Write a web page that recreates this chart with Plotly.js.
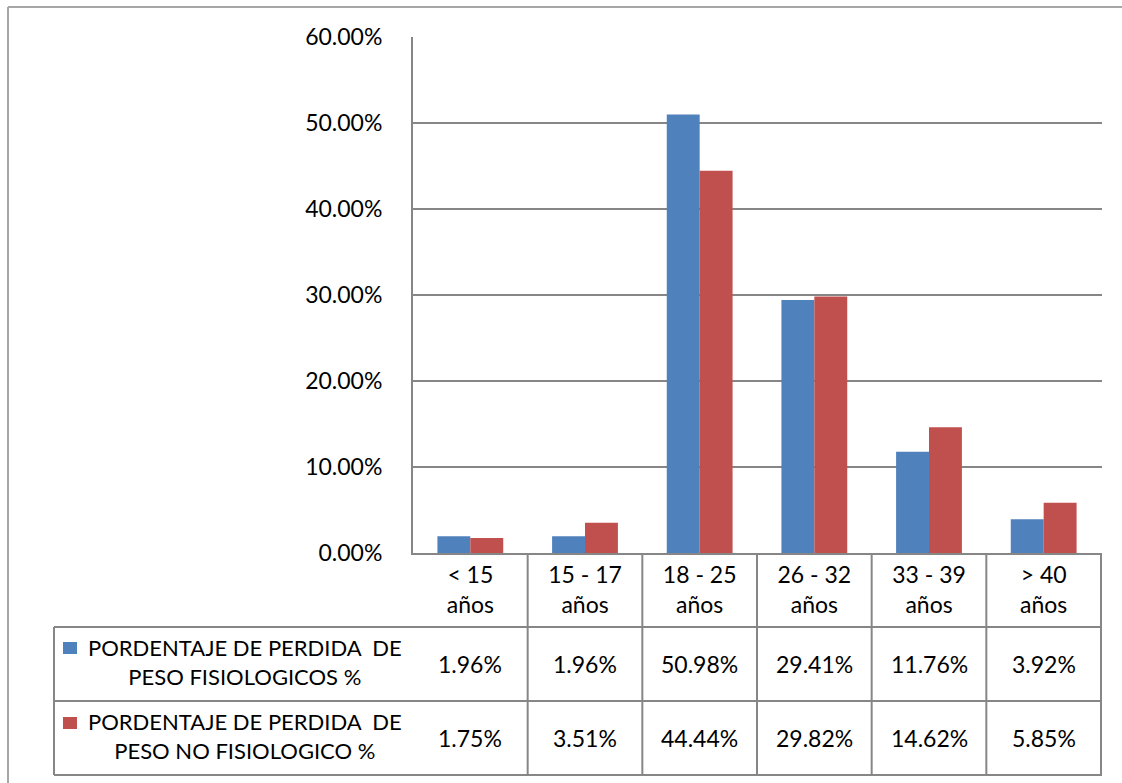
<!DOCTYPE html>
<html>
<head>
<meta charset="utf-8">
<script src="https://cdn.plot.ly/plotly-3.0.1.min.js"></script>
<style>html,body{margin:0;padding:0;background:#fff;}#chart{width:1122px;height:783px;}</style>
</head>
<body>
<div id="chart"></div>
<script>
var categories = ["< 15<br>años", "15 - 17<br>años", "18 - 25<br>años", "26 - 32<br>años", "33 - 39<br>años", "> 40<br>años"];
var fisiologicos = [1.96, 1.96, 50.98, 29.41, 11.76, 3.92];
var noFisiologicos = [1.75, 3.51, 44.44, 29.82, 14.62, 5.85];
var seriesNames = ["PORDENTAJE DE PERDIDA\u00A0\u00A0DE<br>PESO FISIOLOGICOS %", "PORDENTAJE DE PERDIDA\u00A0\u00A0DE<br>PESO NO FISIOLOGICO %"];
var colors = ["#4F81BD", "#C0504D"];

var W = 1122, H = 783;
var L = 413, R = 20, T = 37, B = 230;
var pw = W - L - R, ph = H - T - B;
function px(x){ return (x - L) / pw; }
function py(y){ return (H - B - y) / ph; }

var font = "Lato, 'Open Sans', sans-serif";
var fs = 23;
var gray = "#868686";

var traces = [
  {type:"bar", x:categories, y:fisiologicos, name:seriesNames[0], marker:{color:colors[0]}, hoverinfo:"y"},
  {type:"bar", x:categories, y:noFisiologicos, name:seriesNames[1], marker:{color:colors[1]}, hoverinfo:"y"}
];

var shapes = [];
var annotations = [];
var rowTop = 553, row1 = 627, row2 = 701, rowBot = 775, legLeft = 54;
for (var i = 0; i < categories.length; i++) {
  shapes.push({type:"line", xref:"x", yref:"paper", x0:i+0.5, x1:i+0.5, y0:py(rowTop), y1:py(rowBot), line:{color:gray, width:2}});
}
[row1, row2, rowBot].forEach(function(y){
  shapes.push({type:"line", xref:"paper", yref:"paper", x0:px(legLeft), x1:px(L+pw), y0:py(y), y1:py(y), line:{color:gray, width:2}});
});
shapes.push({type:"line", xref:"paper", yref:"paper", x0:px(legLeft), x1:px(legLeft), y0:py(row1), y1:py(rowBot), line:{color:gray, width:2}});
shapes.push({type:"line", xref:"paper", yref:"paper", x0:px(8), x1:px(8), y0:py(7), y1:py(790), line:{color:"#a6a6a6", width:2}});
shapes.push({type:"line", xref:"paper", yref:"paper", x0:px(8), x1:px(1130), y0:py(7), y1:py(7), line:{color:"#a6a6a6", width:2}});

var rows = [fisiologicos, noFisiologicos];
var rowCenters = [(row1+row2)/2, (row2+rowBot)/2];
var sqTops = [642, 717];
for (var r = 0; r < 2; r++) {
  for (var c = 0; c < categories.length; c++) {
    annotations.push({xref:"x", yref:"paper", x:c, y:py(rowCenters[r]), text:rows[r][c].toFixed(2)+"%", showarrow:false, font:{family:font, size:fs, color:"#000"}, xanchor:"center", yanchor:"middle"});
  }
  annotations.push({xref:"paper", yref:"paper", x:px(245), y:py(rowCenters[r]-2), text:seriesNames[r], showarrow:false, align:"center", font:{family:font, size:22, color:"#000"}, xanchor:"center", yanchor:"middle"});
  shapes.push({type:"rect", xref:"paper", yref:"paper", x0:px(63), x1:px(77), y0:py(sqTops[r]), y1:py(sqTops[r]+12), fillcolor:colors[r], line:{width:0}});
}

var layout = {
  width:W, height:H,
  margin:{l:L, r:R, t:T, b:B, pad:0},
  paper_bgcolor:"#fff", plot_bgcolor:"#fff",
  showlegend:false,
  barmode:"group", bargap:0.426, bargroupgap:0,
  font:{family:font, size:fs, color:"#000"},
  xaxis:{type:"category", showline:true, linecolor:gray, linewidth:2, showgrid:false, ticks:"", ticklabelstandoff:0, tickfont:{family:font, size:fs, color:"#000"}, fixedrange:true},
  yaxis:{range:[0,60], dtick:10, tickformat:".2f", ticksuffix:"%", showline:true, linecolor:gray, linewidth:2, gridcolor:gray, gridwidth:1.5, zeroline:false, ticks:"", ticklabelstandoff:24, tickfont:{family:font, size:fs, color:"#000"}, fixedrange:true},
  shapes:shapes,
  annotations:annotations
};

Plotly.newPlot("chart", traces, layout, {displayModeBar:false, staticPlot:true});
</script>
</body>
</html>
